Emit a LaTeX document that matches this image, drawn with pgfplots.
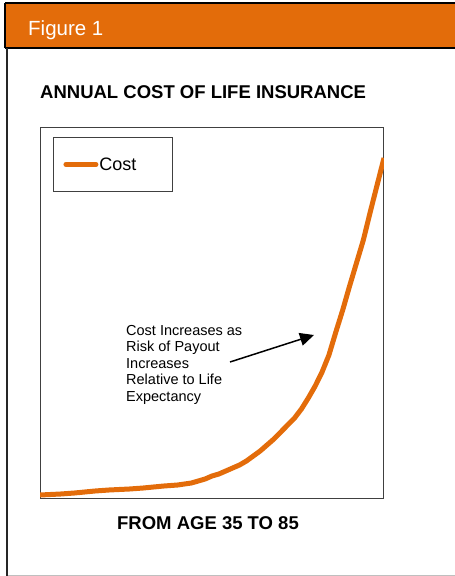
\documentclass[border=0pt]{standalone}
\usepackage{fontspec}
\setmainfont{Liberation Sans}
\usepackage{pgfplots}
\pgfplotsset{compat=1.18}
\usetikzlibrary{arrows.meta}
\definecolor{fig}{RGB}{227,108,10}
\definecolor{axgray}{RGB}{64,64,64}
\begin{document}
\begin{tikzpicture}[x=1pt,y=1pt]
\useasboundingbox (0,0) rectangle (455,-576);
% banner
\fill[fig] (5,-3) rectangle (455,-48);
\draw[black,line width=1.2pt] (5,-3) -- (455,-3);
\draw[black,line width=1.2pt] (5,-3) -- (5,-48);
\draw[black,line width=1.5pt] (5,-48) -- (455,-48);
\node[anchor=base west,text=white,inner sep=0pt,font=\fontsize{20.5}{24}\selectfont] at (28,-35) {Figure 1};
% panel border
\draw[black!85,line width=1.4pt] (7,-48) -- (7,-576);
\draw[black!25,line width=1pt] (8,-575) -- (455,-575);
% title
\node[anchor=base west,inner sep=0pt,font=\fontsize{18.5}{22}\selectfont\bfseries] at (40,-98) {ANNUAL COST OF LIFE INSURANCE};
\begin{axis}[
  at={(40pt,-498pt)}, anchor=south west,
  scale only axis, width=344pt, height=371pt,
  xmin=35, xmax=85, ymin=0, ymax=371,
  xtick=\empty, ytick=\empty,
  axis line style={axgray,line width=1pt},
  legend style={at={(rel axis cs:0.0378,0.973)}, anchor=north west,
    draw=axgray, line width=0.9pt, inner xsep=10pt, inner ysep=19pt,
    font=\fontsize{18}{20}\selectfont, nodes={inner sep=1pt}},
  legend image code/.code={\draw[fig,line width=5pt,line cap=round] (0pt,0pt) -- (30pt,0pt);},
]
\addplot[fig, line width=5pt, line join=round] coordinates {
(35,3) (38,4) (40,5) (43,7) (45,8) (48,9) (50,10) (53,12) (55,13) (57,15) (58,17) (59,19)
(60,22) (61,24) (62,27) (63,30) (64,33) (65,37) (66,42) (67,47) (68,53) (69,59) (70,66)
(71,73) (72,80) (73,89) (74,100) (75,112) (76,126) (77,143) (78,166) (79,188) (80,212)
(81,235) (82,258) (83,286) (84,313) (85,340)
};
\addlegendentry{\makebox[62pt][l]{Cost}}
\end{axis}
% annotation
\node[anchor=north west,align=left,inner sep=0pt,font=\fontsize{14.5}{16.5}\selectfont] at (126,-325) {Cost Increases as\\Risk of Payout\\Increases\\Relative to Life\\Expectancy};
\draw[black,line width=1.5pt,-{Triangle[length=14pt,width=13pt]}] (230,-362) -- (314,-335);
% x caption
\node[anchor=base,inner sep=0pt,font=\fontsize{18.5}{22}\selectfont\bfseries] at (208,-529) {FROM AGE 35 TO 85};
\end{tikzpicture}
\end{document}
